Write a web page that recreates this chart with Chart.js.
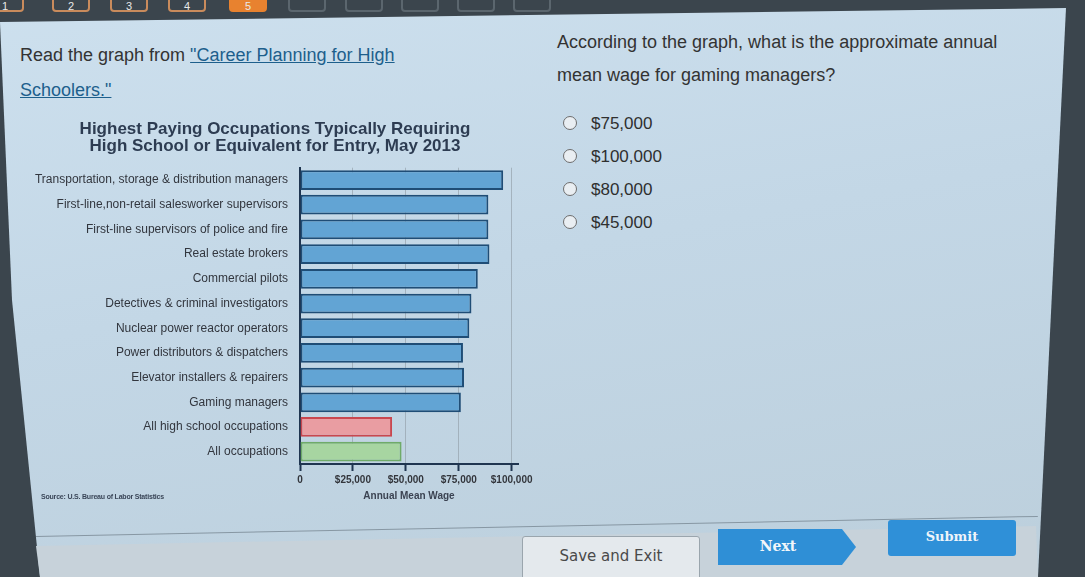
<!DOCTYPE html>
<html>
<head>
<meta charset="utf-8">
<title>Highest Paying Occupations</title>
<script src="https://cdn.jsdelivr.net/npm/chart.js@4.4.1/dist/chart.umd.min.js"></script>
<style>
  html, body { margin: 0; padding: 0; }
  body {
    width: 1085px; height: 577px; overflow: hidden; position: relative;
    background: #3b454d; font-family: Arial, "Liberation Sans", sans-serif;
  }
  .tab {
    position: absolute; top: -8px; width: 38px; height: 20px;
    border: 2px solid #c98b5c; border-radius: 4px; box-sizing: border-box;
    color: #e8e8e8; font-size: 11px; text-align: center; line-height: 24px;
  }
  .tab.on { background: #e8822f; border-color: #e8822f; }
  .tab.off { border-color: #5b666e; }
  .panel {
    position: absolute; left: 0; top: 0; width: 1085px; height: 577px;
    background: linear-gradient(170deg, #cde0ee 0%, #c3d7e6 45%, #bccfdc 100%);
    clip-path: polygon(0 22px, 1066px 8px, 1038px 577px, 40px 577px, 12px 300px);
  }
  .footer {
    position: absolute; left: 0; top: 0; width: 1085px; height: 577px;
    background: #c7d2da;
    clip-path: polygon(36px 546px, 1036px 526px, 1038px 577px, 40px 577px);
  }
  .divider {
    position: absolute; left: 36px; top: 536px; width: 1002px; height: 1px;
    background: #8797a3; transform: rotate(-1.15deg); transform-origin: left center;
  }
  .q { position: absolute; color: #333; font-size: 18px; }
  .q a { color: #1d5f8c; text-decoration: underline; }
  .opt { position: absolute; left: 563px; font-size: 17px; color: #2f2f2f; }
  .opt span.r {
    display: inline-block; width: 12px; height: 12px; border: 1.5px solid #6d6d6d;
    border-radius: 50%; background: #e9eef2; vertical-align: -1px; margin-right: 14px;
  }
  .btn {
    position: absolute; box-sizing: border-box; text-align: center;
    font-family: "DejaVu Serif", serif; font-weight: bold;
  }
  #chartBox { position: absolute; left: 20px; top: 110px; }
  .source {
    position: absolute; left: 41px; top: 493px; font-size: 7px; color: #3a4658;
    font-weight: bold; letter-spacing: -0.2px;
  }
</style>
</head>
<body>
<div class="tab" style="left:-14px">1</div>
<div class="tab" style="left:52px">2</div>
<div class="tab" style="left:110px">3</div>
<div class="tab" style="left:168px">4</div>
<div class="tab on" style="left:229px">5</div>
<div class="tab off" style="left:288px"></div>
<div class="tab off" style="left:345px"></div>
<div class="tab off" style="left:401px"></div>
<div class="tab off" style="left:457px"></div>
<div class="tab off" style="left:513px"></div>

<div class="panel"></div>
<div class="footer"></div>
<div class="divider"></div>

<div class="q" style="left:20px; top:38px; line-height:35px;">
  Read the graph from <a>"Career Planning for High</a><br><a>Schoolers."</a>
</div>
<div class="q" style="left:557px; top:26px; line-height:33px;">
  According to the graph, what is the approximate annual<br>mean wage for gaming managers?
</div>
<div class="opt" style="top:114px"><span class="r"></span>$75,000</div>
<div class="opt" style="top:147px"><span class="r"></span>$100,000</div>
<div class="opt" style="top:180px"><span class="r"></span>$80,000</div>
<div class="opt" style="top:213px"><span class="r"></span>$45,000</div>

<div id="chartBox"><canvas id="chart" width="540" height="400"></canvas></div>
<div class="source">Source: U.S. Bureau of Labor Statistics</div>

<div class="btn" style="left:522px; top:536px; width:178px; height:44px; background:#e4e9ed; border:1px solid #9aa5ad; border-radius:3px; color:#4a4a4a; font-size:15px; line-height:38px; font-weight:normal; font-family: 'DejaVu Sans', sans-serif;">Save and Exit</div>
<div class="btn" style="left:718px; top:529px; width:138px; height:36px; background:#2f8fd6; color:#f2f6fa; font-size:14px; line-height:34px; clip-path: polygon(0 0, 124px 0, 138px 18px, 124px 36px, 0 36px); padding-right:18px;">Next</div>
<div class="btn" style="left:888px; top:520px; width:128px; height:36px; background:#2f90d8; border-radius:3px; color:#eef4fa; font-size:13px; line-height:34px;">Submit</div>

<script>
const categories = [
  "Transportation, storage & distribution managers",
  "First-line,non-retail salesworker supervisors",
  "First-line supervisors of police and fire",
  "Real estate brokers",
  "Commercial pilots",
  "Detectives & criminal investigators",
  "Nuclear power reactor operators",
  "Power distributors & dispatchers",
  "Elevator installers & repairers",
  "Gaming managers",
  "All high school occupations",
  "All occupations"
];
const meanWage = [96000, 89000, 89000, 89500, 84000, 81000, 80000, 77000, 77500, 76000, 43500, 48000];
const tickValues = [0, 25000, 50000, 75000, 100000];

// last two bars are the comparison groups
function fillFor(i) {
  if (i === categories.length - 2) return "#e99da2";
  if (i === categories.length - 1) return "#a7d5a1";
  return "#62a4d4";
}
function borderFor(i) {
  if (i === categories.length - 2) return "#c9474f";
  if (i === categories.length - 1) return "#6fab69";
  return "#1f4d76";
}

const chart = new Chart(document.getElementById("chart"), {
  type: "bar",
  data: {
    labels: categories,
    datasets: [
      {
        label: "Annual Mean Wage",
        data: meanWage,
        backgroundColor: categories.map((c, i) => fillFor(i)),
        borderColor: categories.map((c, i) => borderFor(i)),
        borderWidth: 2,
        borderSkipped: false,
        barPercentage: 0.8,
        categoryPercentage: 1,
      },
    ],
  },
  options: {
    indexAxis: "y",
    responsive: false,
    animation: false,
    layout: { padding: { left: 12, right: 42, top: 0, bottom: 6 } },
    scales: {
      x: {
        min: 0,
        max: 103000,
        afterBuildTicks: (scale) => {
          scale.ticks = tickValues.map((v) => ({ value: v }));
        },
        ticks: {
          color: "#33363c",
          font: { family: "Arial, 'Liberation Sans', sans-serif", size: 10, weight: "bold" },
          padding: 3,
          maxRotation: 0,
          callback: (v) => (v === 0 ? "0" : "$" + v.toLocaleString("en-US")),
        },
        grid: {
          color: "rgba(150,162,172,0.7)",
          lineWidth: 1,
          tickLength: 7,
          tickColor: "#1f3550",
          tickWidth: 2,
        },
        border: { color: "#1f3550", width: 2 },
        title: {
          display: true,
          text: "Annual Mean Wage",
          color: "#3b4352",
          font: { family: "Arial, 'Liberation Sans', sans-serif", size: 10, weight: "bold" },
          padding: { top: 1, bottom: 2 },
        },
      },
      y: {
        afterFit: (scale) => {
          scale.width = 268;
        },
        ticks: {
          color: "#32363e",
          font: { family: "Arial, 'Liberation Sans', sans-serif", size: 12 },
          padding: 4,
        },
        grid: { display: false },
        border: { color: "#1f3550", width: 2 },
      },
    },
    plugins: {
      legend: { display: false },
      tooltip: { enabled: false },
      title: {
        display: true,
        text: [
          "Highest Paying Occupations Typically Requiring",
          "High School or Equivalent for Entry, May 2013",
        ],
        color: "#2d3c52",
        font: { family: "Arial, 'Liberation Sans', sans-serif", size: 17, weight: "bold", lineHeight: 1.05 },
        padding: { top: 10, bottom: 12 },
      },
    },
  },
});
</script>
</body>
</html>
